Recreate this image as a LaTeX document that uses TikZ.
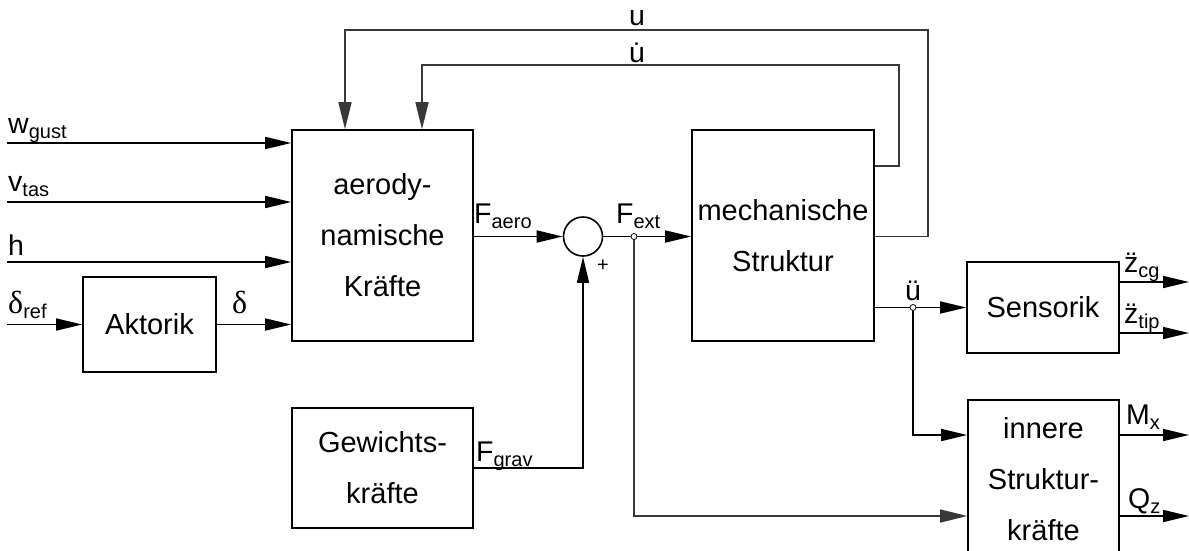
\documentclass[tikz,border=0pt]{standalone}
\usepackage{fontspec}
\setmainfont{Liberation Sans}
\newfontfamily\seriffont{Liberation Serif}
\usetikzlibrary{arrows.meta}
\newcommand\sbs[1]{\raisebox{-5.5pt}{\fontsize{20}{20}\selectfont #1}}
\newcommand\dlt{{\seriffont\fontsize{32}{32}\selectfont δ}}
\begin{document}
\begin{tikzpicture}[x=1pt,y=-1pt,
  box/.style={draw=black,line width=1.6pt,rectangle,inner sep=0pt,align=center,font=\fontsize{29}{51}\selectfont},
  sig/.style={draw=black,line width=1.6pt,-{Triangle[length=26pt,width=12pt]}},
  fb/.style={draw=black!78,line width=1.4pt,-{Triangle[length=27pt,width=13pt]}},
  lbl/.style={inner sep=0pt,anchor=base west,font=\fontsize{28.5}{28.5}\selectfont},
  jdot/.style={circle,draw=black,fill=white,line width=0.8pt,inner sep=0pt,minimum size=6pt}
]
\useasboundingbox (0,0) rectangle (1189,550);
\clip (0,0) rectangle (1189,550);

% blocks
\node[box,minimum width=181pt,minimum height=211pt] (aero) at (382.5,235.5) {aerody-\\namische\\Kräfte};
\node[box,minimum width=133pt,minimum height=95pt] (akt) at (149.5,324.5) {Aktorik};
\node[box,minimum width=181pt,minimum height=120pt] (gew) at (382.5,468) {Gewichts-\\kräfte};
\node[box,minimum width=182pt,minimum height=211pt] (mech) at (783,235.5) {mechanische\\Struktur};
\node[box,minimum width=152pt,minimum height=91pt] (sens) at (1043,307.5) {Sensorik};
\node[box,minimum width=151pt,minimum height=158pt] (inn) at (1043.5,479) {innere\\Struktur-\\kräfte};
\node[circle,draw=black,line width=1.6pt,minimum size=39pt,inner sep=0pt] (sum) at (583,236.5) {};

% coordinates
\coordinate (iw) at (7,143);
\coordinate (iv) at (7,202);
\coordinate (ih) at (7,262);
\coordinate (idr) at (7,324.5);
\coordinate (fj) at (634,236.5);
\coordinate (fjb) at (634,516);
\coordinate (uj) at (913,307.5);
\coordinate (ujb) at (913,435);
\coordinate (u1) at (928,30);
\coordinate (u2) at (345,30);
\coordinate (ud1) at (899,65);
\coordinate (ud2) at (422,65);
\coordinate (ocg) at (1189,282);
\coordinate (otip) at (1189,333);
\coordinate (omx) at (1189,435);
\coordinate (oqz) at (1189,516);

% inputs
\draw[sig] (iw) -- (iw -| aero.west);
\draw[sig] (iv) -- (iv -| aero.west);
\draw[sig] (ih) -- (ih -| aero.west);
\draw[sig] (idr) -- (akt.west);
\draw[sig] (akt.east) -- (akt.east -| aero.west);

% forces
\draw[sig] (aero.east |- sum) -- (sum.west);
\draw[sig] (sum.east) -- (sum.east -| mech.west);
\draw[sig] (gew.east) -| (sum.south);
\draw[fb] (fj) -- (fjb) -- (fjb -| inn.west);

% structure outputs
\draw[sig] (mech.east |- uj) -- (uj -| sens.west);
\draw[sig] (uj) -- (ujb) -- (ujb -| inn.west);

% feedback
\draw[fb] (mech.east |- fj) -| (u1) -- (u2) -- (u2 |- aero.north);
\draw[fb] (mech.east |- 0,166) -| (ud1) -- (ud2) -- (ud2 |- aero.north);

% outputs
\draw[sig] (ocg -| sens.east) -- (ocg);
\draw[sig] (otip -| sens.east) -- (otip);
\draw[sig] (omx -| inn.east) -- (omx);
\draw[sig] (oqz -| inn.east) -- (oqz);

% junctions
\node[jdot] (fjd) at (fj) {};
\node[jdot] (ujd) at (uj) {};

% labels
\node[lbl] (lw) at (8,133) {w\sbs{gust}};
\node[lbl] (lv) at (8,191) {v\sbs{tas}};
\node[lbl] (lh) at (8,255) {h};
\node[lbl] (ldr) at (8,313) {\dlt\sbs{ref}};
\node[lbl] (ld) at (232,313) {\dlt};
\node[lbl] (lfa) at (474,223) {F\sbs{aero}};
\node[lbl] (lfe) at (616,223) {F\sbs{ext}};
\node[lbl] (lfg) at (476,461) {F\sbs{grav}};
\node[lbl,anchor=base] (lpp) at (913,300) {ü};
\node[lbl,anchor=base] (lu) at (637,25) {u};
\node[lbl,anchor=base] (lud) at (637,62) {\.u};
\node[lbl] (lcg) at (1124,272) {\"z\sbs{cg}};
\node[lbl] (ltip) at (1124,323) {\"z\sbs{tip}};
\node[lbl] (lmx) at (1126,424) {M\sbs{x}};
\node[lbl] (lqz) at (1128,508) {Q\sbs{z}};
\node[inner sep=0pt,font=\fontsize{20}{20}\selectfont] (lplus) at (603,266) {+};
\end{tikzpicture}
\end{document}
